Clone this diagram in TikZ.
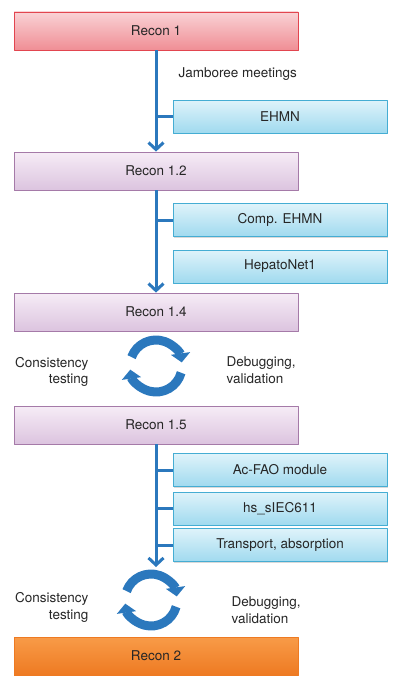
\documentclass[tikz,border=0pt]{standalone}
\usepackage{fontspec}
\setmainfont{TeX Gyre Heros}
\usetikzlibrary{arrows.meta,shadows}
\definecolor{linkblue}{HTML}{2B78BD}
\definecolor{redtop}{HTML}{F9D2D5}
\definecolor{redbot}{HTML}{F08E95}
\definecolor{redline}{HTML}{E2454F}
\definecolor{lilactop}{HTML}{F6ECF6}
\definecolor{lilacbot}{HTML}{DCC4DF}
\definecolor{lilacline}{HTML}{A57AA8}
\definecolor{cyantop}{HTML}{DFF3FA}
\definecolor{cyanbot}{HTML}{A0DAEF}
\definecolor{cyanline}{HTML}{45ADD3}
\definecolor{orangetop}{HTML}{F89B48}
\definecolor{orangebot}{HTML}{EE7A22}
\begin{document}
\begin{tikzpicture}[x=1pt,y=-1pt,line join=round,>={Straight Barb[length=7pt,width=15pt]}]
    \tikzset{txt/.style={font=\fontsize{13.5}{16.5}\selectfont,text=black!85},
        version/.style={txt,draw,line width=0.8pt,minimum width=284pt,minimum height=38pt,
            drop shadow={shadow xshift=1.2pt,shadow yshift=-1.2pt,opacity=0.3}},
        redbox/.style={version,draw=redline,top color=redtop,bottom color=redbot},
        lilacbox/.style={version,draw=lilacline,top color=lilactop,bottom color=lilacbot},
        orangebox/.style={version,draw=orangebot,top color=orangetop,bottom color=orangebot},
        source/.style={txt,draw=cyanline,line width=0.8pt,top color=cyantop,bottom color=cyanbot,
            minimum width=214pt,minimum height=33pt,
            drop shadow={shadow xshift=1.2pt,shadow yshift=-1.2pt,opacity=0.3}},
        link/.style={draw=linkblue,line width=3pt},
        spin/.style={draw=linkblue,line width=9pt,-{Triangle[length=9pt,width=19pt]}}}
    %% Khung hình
    \useasboundingbox (0,0) rectangle (400,693);
    %% Các phiên bản
    \node[redbox] (r1) at (156,31) {Recon 1};
    \node[lilacbox] (r12) at (156,171) {Recon 1.2};
    \node[lilacbox] (r14) at (156,312) {Recon 1.4};
    \node[lilacbox] (r15) at (156,425) {Recon 1.5};
    \node[orangebox] (r2) at (156,656) {Recon 2};
    %% Nguồn bổ sung
    \node[source] (ehmn) at (280,116.5) {EHMN};
    \node[source] (compehmn) at (280,220) {Comp. EHMN};
    \node[source] (hepato) at (280,266.5) {HepatoNet1};
    \node[source] (acfao) at (280,470) {Ac-FAO module};
    \node[source] (hs) at (280,508.5) {hs\_sIEC611};
    \node[source] (transport) at (280,545) {Transport, absorption};
    \node[txt,anchor=west] (jam) at (175,74) {Jamboree meetings};
    %% Trục nối
    \coordinate (t2) at (156,567);
    \draw[link,->] (r1) -- (r12);
    \draw[link,->] (r12) -- (r14);
    \draw[link,->] (r15) -- (t2);
    \foreach \b in {ehmn,compehmn,acfao,hs,transport}
        \draw[link] (\b.west) -- (\b.west -| r1.south);
    %% Vòng kiểm tra
    \coordinate (cyc1) at (156,366);
    \coordinate (cyc2) at (151,600);
    \foreach \c in {cyc1,cyc2} {
        \draw[spin] ([shift={(160:26pt)}]\c) arc[start angle=160,end angle=8,radius=26pt];
        \draw[spin] ([shift={(-15:26pt)}]\c) arc[start angle=-15,end angle=-172,radius=26pt];
    }
    \node[txt,align=right,anchor=east] (ct1) at (92,372) {Consistency\\testing};
    \node[txt,align=left,anchor=west] (dv1) at (223,370) {Debugging,\\validation};
    \node[txt,align=right,anchor=east] (ct2) at (92,607.5) {Consistency\\testing};
    \node[txt,align=left,anchor=west] (dv2) at (228,610) {Debugging,\\validation};
\end{tikzpicture}
\end{document}
